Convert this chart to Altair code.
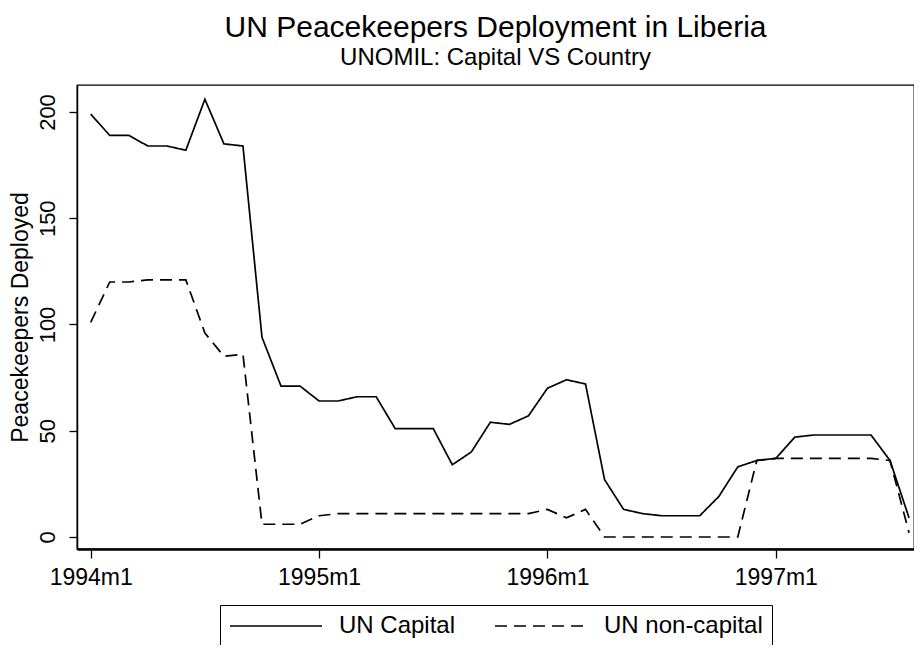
import json
import altair as alt
import pandas as pd

# ---- data ----
months = [f"{y}m{m}" for y in range(1994, 1998) for m in range(1, 13)][:44]
capital = [199, 189, 189, 184, 184, 182, 206, 185, 184, 94,
           71, 71, 64, 64, 66, 66, 51, 51, 51, 34,
           40, 54, 53, 57, 70, 74, 72, 27, 13, 11,
           10, 10, 10, 19, 33, 36, 37, 47, 48, 48,
           48, 48, 36, 9]
noncapital = [101, 120, 120, 121, 121, 121, 96, 85, 86, 6,
              6, 6, 10, 11, 11, 11, 11, 11, 11, 11,
              11, 11, 11, 11, 13, 9, 13, 0, 0, 0,
              0, 0, 0, 0, 0, 36, 37, 37, 37, 37,
              37, 37, 36, 2]
series_names = ["UN Capital", "UN non-capital"]
x_tick_values = [0, 12, 24, 36]
x_tick_labels = ["1994m1", "1995m1", "1996m1", "1997m1"]
y_tick_values = [0, 50, 100, 150, 200]

rows = []
for i, mo in enumerate(months):
    rows.append({"t": i, "month": mo, "series": series_names[0], "value": capital[i]})
    rows.append({"t": i, "month": mo, "series": series_names[1], "value": noncapital[i]})
df = pd.DataFrame(rows)

FONT = "Liberation Sans"
label_expr = json.dumps(x_tick_labels) + "[datum.value / 12]"

chart = alt.Chart(df).mark_line(
    color="black", strokeWidth=1.7, strokeCap="butt", strokeJoin="miter"
).encode(
    x=alt.X(
        "t:Q",
        scale=alt.Scale(domain=[-0.72, 43.26], nice=False, zero=False),
        axis=alt.Axis(
            values=x_tick_values, labelExpr=label_expr, title=None, grid=False,
            tickSize=9, tickWidth=1.3, domainWidth=2.6, labelFontSize=23,
            labelPadding=8, labelFlush=False, labelOverlap=False,
        ),
    ),
    y=alt.Y(
        "value:Q",
        scale=alt.Scale(domain=[-5.65, 212.7], nice=False, zero=False),
        axis=alt.Axis(
            values=y_tick_values, title="Peacekeepers Deployed", grid=False,
            tickSize=8, tickWidth=1.3, domainWidth=1.5, labelFontSize=22,
            labelAngle=270, labelAlign="center", labelBaseline="bottom",
            labelPadding=10, titleFontSize=23, titleFontWeight="normal",
            titlePadding=4, labelFlush=False, labelOverlap=False,
        ),
    ),
    strokeDash=alt.StrokeDash(
        "series:N",
        scale=alt.Scale(domain=series_names, range=[[1, 0], [12, 7]]),
        legend=alt.Legend(
            title=None, orient="none", legendX=143, legendY=520,
            direction="horizontal", columns=2, symbolType="stroke",
            symbolSize=8464, symbolStrokeWidth=1.7, symbolStrokeColor="black",
            labelFontSize=24, labelFont=FONT, labelColor="black",
            labelOffset=16, columnPadding=38, padding=9, clipHeight=24,
            strokeColor="black",
        ),
    ),
    order="t:Q",
).properties(
    width=837,
    height=464,
    autosize=alt.AutoSizeParams(type="none"),
    padding={"left": 69, "top": 77, "right": 0, "bottom": 96},
    title=alt.TitleParams(
        text="UN Peacekeepers Deployment in Liberia",
        subtitle="UNOMIL: Capital VS Country",
        fontSize=30, subtitleFontSize=24, font=FONT, subtitleFont=FONT,
        fontWeight="normal", color="black", subtitleColor="black",
        anchor="middle", offset=15, subtitlePadding=3,
    ),
).configure(
    background="white",
    font=FONT,
).configure_view(
    stroke="black", strokeWidth=1.3,
).configure_axis(
    domainColor="black", tickColor="black", labelColor="black",
    titleColor="black", labelFont=FONT, titleFont=FONT,
)

chart.save("out.html", embed_options={"renderer": "svg", "actions": False})
